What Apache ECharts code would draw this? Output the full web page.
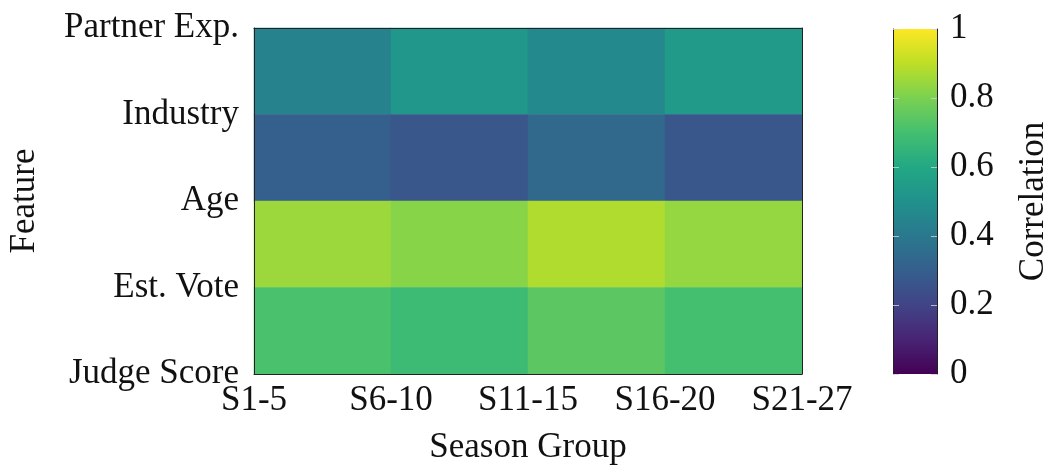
<!DOCTYPE html>
<html>
<head>
<meta charset="utf-8">
<script src="https://cdn.jsdelivr.net/npm/echarts@6/dist/echarts.min.js"></script>
<style>
html,body{margin:0;padding:0;background:#fff;}
#chart{width:1047px;height:469px;}
</style>
</head>
<body>
<div id="chart"></div>
<script>
// Tick labels (placed at cell edges, as in the reference)
const seasonTicks = ['S1-5', 'S6-10', 'S11-15', 'S16-20', 'S21-27'];
const featureTicks = ['Partner Exp.', 'Industry', 'Age', 'Est. Vote', 'Judge Score']; // top -> bottom
// Cell indices (4 columns x 4 rows)
const cellCols = ['c1', 'c2', 'c3', 'c4'];
const cellRows = ['r1', 'r2', 'r3', 'r4']; // top -> bottom
// Correlation values, one array per cell row (top -> bottom)
const row1 = [0.44, 0.52, 0.47, 0.54];
const row2 = [0.30, 0.27, 0.34, 0.27];
const row3 = [0.85, 0.82, 0.88, 0.84];
const row4 = [0.71, 0.68, 0.745, 0.70];
// Colorbar
const colorbarTicks = [0, 0.2, 0.4, 0.6, 0.8, 1];
const viridis = ['#440154', '#482475', '#414487', '#355f8d', '#2a788e', '#21918c', '#22a884', '#44bf70', '#7ad151', '#bddf26', '#fde725'];

const rows = [row1, row2, row3, row4];
const heatData = [];
rows.forEach((r, yi) => r.forEach((v, xi) => heatData.push([xi, yi, v])));

const FONT = 'Liberation Serif';
const FS = 35;
const TXT = '#111';

const chart = echarts.init(document.getElementById('chart'), null, {renderer: 'canvas'});
const gradStops = viridis.map((c, i) => ({offset: i / (viridis.length - 1), color: c}));

chart.setOption({
  animation: false,
  backgroundColor: '#fff',
  textStyle: {fontFamily: FONT, color: TXT},
  grid: [
    {left: 254, top: 28, width: 548, height: 346, containLabel: false, outerBoundsMode: 'none'},
    {left: 893, top: 29, width: 44, height: 345, containLabel: false, outerBoundsMode: 'none'}
  ],
  visualMap: {
    show: false, type: 'continuous', min: 0, max: 1, seriesIndex: 0, dimension: 2,
    inRange: {color: viridis}
  },
  xAxis: [
    {type: 'category', gridIndex: 0, data: cellCols, show: false},
    {type: 'category', gridIndex: 0, data: seasonTicks, boundaryGap: false, position: 'bottom', z: 5,
      axisLine: {show: true, lineStyle: {color: '#222', width: 1}},
      axisTick: {show: false},
      axisLabel: {fontFamily: FONT, fontSize: FS, color: TXT, margin: 9, interval: 0, hideOverlap: false},
      name: 'Season Group', nameLocation: 'middle', nameGap: 56,
      nameTextStyle: {fontFamily: FONT, fontSize: FS, color: TXT}},
    {type: 'category', gridIndex: 0, data: seasonTicks, boundaryGap: false, position: 'top', z: 5,
      axisLine: {show: true, lineStyle: {color: '#222', width: 1}},
      axisTick: {show: false}, axisLabel: {show: false}},
    {type: 'category', gridIndex: 1, data: ['cb'], show: false}
  ],
  yAxis: [
    {type: 'category', gridIndex: 0, data: cellRows, inverse: true, show: false},
    {type: 'category', gridIndex: 0, data: featureTicks, inverse: true, boundaryGap: false, position: 'left', z: 5,
      axisLine: {show: true, lineStyle: {color: '#222', width: 1}},
      axisTick: {show: false},
      axisLabel: {fontFamily: FONT, fontSize: FS, color: TXT, margin: 15, interval: 0, hideOverlap: false},
      name: 'Feature', nameLocation: 'middle', nameGap: 212, nameRotate: 90,
      nameTextStyle: {fontFamily: FONT, fontSize: FS, color: TXT}},
    {type: 'category', gridIndex: 0, data: featureTicks, inverse: true, boundaryGap: false, position: 'right', z: 5,
      axisLine: {show: true, lineStyle: {color: '#222', width: 1}},
      axisTick: {show: false}, axisLabel: {show: false}},
    {type: 'value', gridIndex: 1, min: 0, max: 1, interval: 0.2, position: 'right', z: 5,
      axisLine: {show: true, lineStyle: {color: '#222', width: 1}},
      axisTick: {show: true, inside: true, length: 6, lineStyle: {color: 'rgba(210,210,210,0.8)', width: 1}},
      splitLine: {show: false},
      axisLabel: {fontFamily: FONT, fontSize: FS, color: TXT, margin: 13, hideOverlap: false,
        formatter: v => colorbarTicks.includes(+v.toFixed(1)) ? String(+v.toFixed(1)) : ''},
      name: 'Correlation', nameLocation: 'middle', nameGap: 79, nameRotate: 90,
      nameTextStyle: {fontFamily: FONT, fontSize: FS, color: TXT}},
    {type: 'value', gridIndex: 1, min: 0, max: 1, interval: 0.2, position: 'left', z: 5,
      axisLine: {show: true, lineStyle: {color: '#222', width: 1}},
      axisTick: {show: true, inside: true, length: 6, lineStyle: {color: 'rgba(210,210,210,0.8)', width: 1}},
      splitLine: {show: false}, axisLabel: {show: false}}
  ],
  series: [
    {type: 'heatmap', xAxisIndex: 0, yAxisIndex: 0, data: heatData,
      itemStyle: {borderWidth: 0}, emphasis: {disabled: true}},
    {type: 'bar', xAxisIndex: 3, yAxisIndex: 3, data: [1], barWidth: '100%', silent: true,
      itemStyle: {color: new echarts.graphic.LinearGradient(0, 1, 0, 0, gradStops)}}
  ]
});
</script>
</body>
</html>
